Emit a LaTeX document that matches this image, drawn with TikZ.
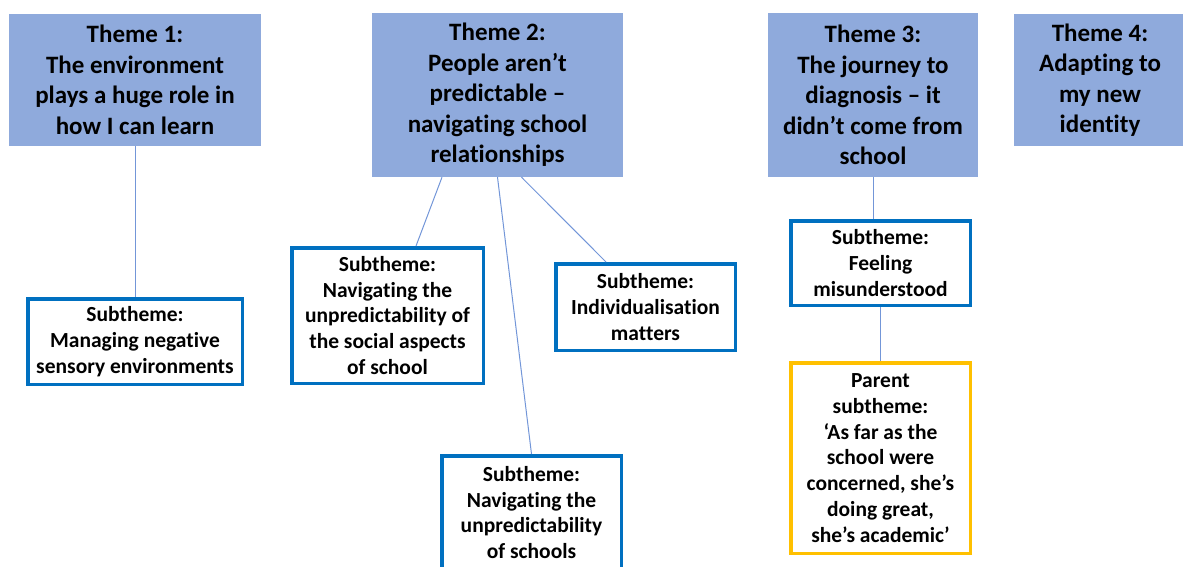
\documentclass[tikz,border=0pt]{standalone}
\usepackage{fontspec}
\setmainfont{Carlito}[Ligatures=NoCommon]
\definecolor{themeblue}{HTML}{8FAADC}
\definecolor{subblue}{HTML}{0070C0}
\definecolor{parentgold}{HTML}{FFC000}
\definecolor{linkblue}{HTML}{7396D8}

\begin{document}
\begin{tikzpicture}[x=1pt,y=-1pt,
  theme/.style={fill=themeblue,align=center,inner sep=0pt,font=\fontsize{25}{30.5}\selectfont\bfseries},
  subtheme/.style={draw=subblue,line width=3.5pt,fill=white,align=center,inner sep=0pt,font=\fontsize{21.5}{25.8}\selectfont\bfseries},
  parentbox/.style={subtheme,draw=parentgold},
  link/.style={linkblue,line width=1pt}]
\useasboundingbox (0,0) rectangle (1183,566);
\clip (0,0) rectangle (1183,566);
% themes
\node[theme,minimum width=252,minimum height=132] (t1) at (135,80) {Theme 1:\\The environment\\plays a huge role in\\how I can learn};
\node[theme,minimum width=251,minimum height=164] (t2) at (497.5,95) {Theme 2:\\People aren’t\\predictable –\\navigating school\\relationships};
\node[theme,minimum width=210,minimum height=164] (t3) at (873,95) {Theme 3:\\The journey to\\diagnosis – it\\didn’t come from\\school};
\node[theme,minimum width=172,minimum height=132] (t4) at (1100,80) {Theme 4:\\Adapting to\\my new\\identity};
% subthemes
\node[subtheme,minimum width=214.5,minimum height=85.5] (sensory) at (135,341.5) {Subtheme:\\Managing negative\\sensory environments};
\node[subtheme,minimum width=191.5,minimum height=135.5] (social) at (387.5,315.5) {Subtheme:\\Navigating the\\unpredictability of\\the social aspects\\of school};
\node[subtheme,minimum width=179.5,minimum height=86.5] (indiv) at (645.5,307) {Subtheme:\\Individualisation\\matters};
\node[subtheme,minimum width=179.5,minimum height=113.5] (schools) at (531.5,512.5) {Subtheme:\\Navigating the\\unpredictability\\of schools};
\node[subtheme,minimum width=179.5,minimum height=84.5] (misund) at (880.5,263) {Subtheme:\\Feeling\\misunderstood};
% parent
\node[parentbox,minimum width=179.5,minimum height=190.5] (parent) at (880.5,458) {Parent\\subtheme:\\‘As far as the\\school were\\concerned, she’s\\doing great,\\she’s academic’};
% links
\draw[link] (t1.south) -- (sensory.north);
\draw[link] ([xshift=-55.5]t2.south) -- ([xshift=28.5]social.north);
\draw[link] (t2.south) -- (schools.north);
\draw[link] ([xshift=24]t2.south) -- ([xshift=-39.5]indiv.north);
\draw[link] (t3.south) -- (t3.south |- misund.north);
\draw[link] (misund.south) -- (parent.north);
\end{tikzpicture}
\end{document}
